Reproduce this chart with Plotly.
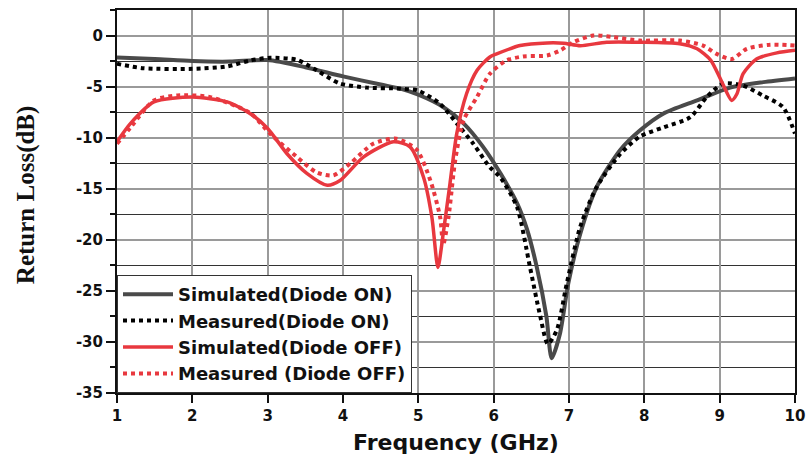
import plotly.graph_objects as go

# Return loss curves (frequency in GHz, S11 in dB)
sim_on_f = [1.0, 1.5, 2.0, 2.5, 3.0, 3.5, 4.0, 4.5, 4.76, 5.0, 5.33, 5.6, 5.86, 6.09, 6.31,
            6.44, 6.57, 6.70, 6.77, 6.88, 6.99, 7.15, 7.37, 7.68, 7.94, 8.25, 8.70, 9.14,
            9.58, 10.0]
sim_on_db = [-2.15, -2.3, -2.5, -2.55, -2.4, -3.1, -4.0, -4.8, -5.2, -5.8, -7.0, -8.6, -10.9,
             -13.5, -16.4, -18.9, -22.6, -27.5, -31.6, -29.2, -24.3, -19.4, -14.8, -11.2,
             -9.3, -7.65, -6.35, -5.1, -4.56, -4.2]

meas_on_f = [1.0, 1.35, 2.0, 2.46, 2.77, 3.03, 3.39, 3.65, 3.96, 4.32, 4.76, 5.0, 5.29, 5.51,
             5.73, 5.95, 6.09, 6.31, 6.48, 6.61, 6.72, 6.84, 6.97, 7.15, 7.37, 7.68, 7.94,
             8.25, 8.61, 8.83, 9.05, 9.31, 9.58, 9.84, 10.0]
meas_on_db = [-2.77, -3.2, -3.26, -3.03, -2.44, -2.18, -2.38, -3.4, -4.7, -5.1, -5.2, -5.4,
              -6.7, -8.6, -10.6, -12.9, -13.9, -16.8, -22.6, -27.2, -30.2, -28.8, -24.3,
              -18.7, -14.8, -11.6, -9.9, -9.0, -8.0, -6.0, -4.7, -4.9, -5.9, -7.0, -9.6]

sim_off_f = [1.0, 1.18, 1.49, 2.0, 2.46, 2.77, 3.0, 3.26, 3.52, 3.79, 3.96, 4.27, 4.67, 4.89,
             5.07, 5.18, 5.26, 5.33, 5.42, 5.51, 5.64, 5.78, 5.95, 6.04, 6.35, 6.71, 6.93,
             7.15, 7.5, 7.94, 8.47, 8.70, 8.88, 9.02, 9.16, 9.23, 9.31, 9.49, 9.76, 10.0]
sim_off_db = [-10.4, -8.6, -6.5, -6.03, -6.5, -7.65, -9.1, -11.6, -13.5, -14.66, -14.2, -11.9,
              -10.4, -10.9, -13.9, -17.8, -22.7, -19.4, -14.5, -9.6, -5.7, -3.4, -2.1, -1.8,
              -0.98, -0.72, -0.75, -1.0, -0.65, -0.65, -0.8, -1.3, -2.4, -4.4, -6.35, -5.7,
              -3.75, -2.3, -1.7, -1.45]

meas_off_f = [1.0, 1.18, 1.49, 1.8, 2.24, 2.77, 3.03, 3.39, 3.65, 3.87, 4.1, 4.4, 4.71, 4.98,
              5.16, 5.29, 5.33, 5.40, 5.49, 5.6, 5.78, 5.95, 6.17, 6.39, 6.71, 6.88, 7.06,
              7.32, 7.59, 7.94, 8.47, 8.78, 8.96, 9.16, 9.36, 9.67, 10.0]
meas_off_db = [-10.6, -9.0, -6.35, -5.87, -6.03, -7.6, -9.6, -11.9, -13.4, -13.7, -12.5,
               -10.6, -10.1, -11.2, -14.2, -17.8, -20.5, -17.8, -12.2, -8.3, -6.0, -3.75,
               -2.44, -2.05, -1.95, -1.47, -0.65, 0.0, -0.16, -0.49, -0.49, -0.98, -1.8,
               -2.3, -1.3, -0.9, -0.98]

x_ticks = [1, 2, 3, 4, 5, 6, 7, 8, 9, 10]
y_ticks = [0, -5, -10, -15, -20, -25, -30, -35]

RED = "#e8383f"
GRAY = "#4a4a4a"
INK = "#111111"
SANS = "DejaVu Sans, Arial"

fig = go.Figure()
fig.add_trace(go.Scatter(x=sim_on_f, y=sim_on_db, mode="lines", name="Simulated(Diode ON)",
                         line=dict(color=GRAY, width=4, shape="spline", smoothing=0.7)))
fig.add_trace(go.Scatter(x=meas_on_f, y=meas_on_db, mode="lines", name="Measured(Diode ON)",
                         line=dict(color="#000000", width=4, dash="dot", shape="spline",
                                   smoothing=0.7)))
fig.add_trace(go.Scatter(x=sim_off_f, y=sim_off_db, mode="lines", name="Simulated(Diode OFF)",
                         line=dict(color=RED, width=3.5, shape="spline", smoothing=0.7)))
fig.add_trace(go.Scatter(x=meas_off_f, y=meas_off_db, mode="lines", name="Measured (Diode OFF)",
                         line=dict(color=RED, width=4, dash="dot", shape="spline",
                                   smoothing=0.7)))

tick_font = dict(family=SANS, size=15, color=INK, weight="bold")

fig.update_layout(
    width=809, height=455,
    margin=dict(l=117, r=14, t=10, b=62),
    paper_bgcolor="white", plot_bgcolor="white",
    legend=dict(x=0.0, y=0.0, xanchor="left", yanchor="bottom",
                bgcolor="white", bordercolor="#333333", borderwidth=1,
                font=dict(family=SANS, size=18, color=INK, weight="bold"),
                tracegroupgap=0, itemwidth=50),
    xaxis=dict(range=[1, 10], tickmode="array", tickvals=x_ticks,
               ticktext=[str(v) for v in x_ticks], ticks="outside", ticklen=8, tickwidth=2,
               tickcolor=INK, showline=True, linecolor=INK, linewidth=2, automargin=False,
               mirror=True, showgrid=True, gridcolor="#9a9a9a", gridwidth=1.5,
               tickfont=tick_font, zeroline=False,
               title=dict(text="Frequency (GHz)",
                          font=dict(family=SANS, size=22, color=INK, weight="bold"),
                          standoff=12)),
    yaxis=dict(range=[-35, 2.5], tickmode="array", tickvals=y_ticks,
               ticktext=[str(v) for v in y_ticks], ticks="outside", ticklen=9, tickwidth=2,
               tickcolor=INK, showline=True, linecolor=INK, linewidth=2, automargin=False,
               mirror=True, showgrid=True, gridcolor="#9a9a9a", gridwidth=1.5,
               tickfont=tick_font, zeroline=False,
               minor=dict(dtick=2.5, tick0=0, ticks="outside", ticklen=5, tickcolor=INK,
                          showgrid=True, gridcolor="#333333", gridwidth=1)),
)

fig.add_annotation(text="Return Loss(dB)", textangle=-90, xref="paper", yref="paper",
                   x=-0.134, y=0.517, xanchor="center", yanchor="middle", showarrow=False,
                   font=dict(family="Liberation Serif, Times New Roman", size=25,
                             color=INK, weight="bold"))

fig.write_html("out.html")
